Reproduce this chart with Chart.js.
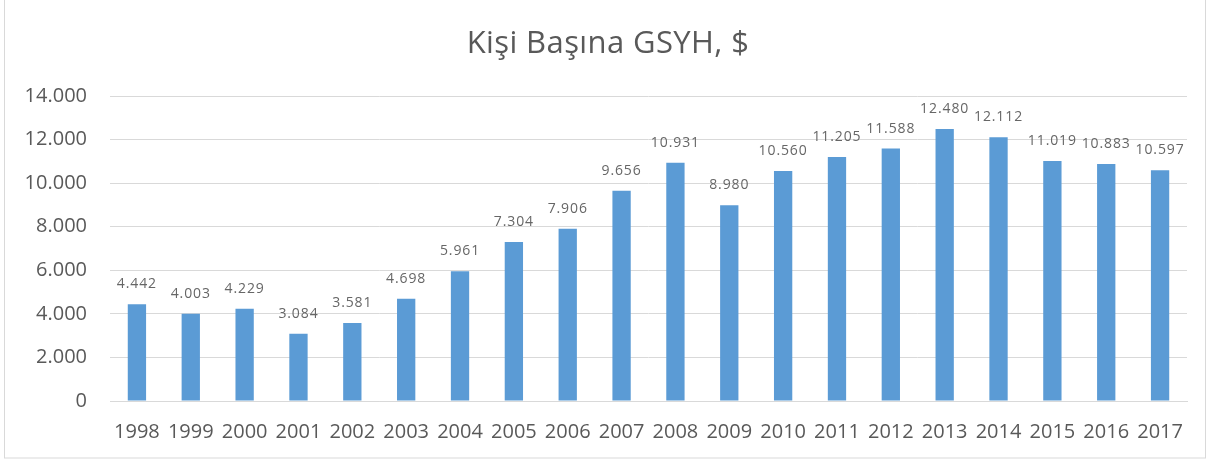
<!DOCTYPE html>
<html>
<head>
<meta charset="utf-8">
<script src="https://cdn.jsdelivr.net/npm/chart.js@4/dist/chart.umd.min.js"></script>
<style>
html,body{margin:0;padding:0;background:#fff;}
#wrap{position:relative;width:1214px;height:463px;}
canvas{display:block;}
</style>
</head>
<body>
<div id="wrap"><canvas id="c" width="1214" height="463"></canvas></div>
<script>
const categories = ['1998','1999','2000','2001','2002','2003','2004','2005','2006','2007','2008','2009','2010','2011','2012','2013','2014','2015','2016','2017'];
const gdpPerCapita = [4442, 4003, 4229, 3084, 3581, 4698, 5961, 7304, 7906, 9656, 10931, 8980, 10560, 11205, 11588, 12480, 12112, 11019, 10883, 10597];
const titleText = 'Kişi Başına GSYH, $';
const yMin = 0, yMax = 14000, yStep = 2000;

function fmt(v){ return String(v).replace(/\B(?=(\d{3})+(?!\d))/g, '.'); }

const FONT = "'Open Sans', sans-serif";
const TXT = '#595959';

const decor = {
  id: 'decor',
  afterDraw(chart){
    const ctx = chart.ctx;
    ctx.save();
    // border
    ctx.strokeStyle = '#d9d9d9';
    ctx.lineWidth = 1;
    ctx.strokeRect(4.5, -1, 1201, 459);
    // title
    ctx.fillStyle = TXT;
    ctx.font = "31px " + FONT;
    try { ctx.letterSpacing = '0.4px'; } catch(e){}
    ctx.textAlign = 'center';
    ctx.textBaseline = 'middle';
    ctx.fillText(titleText, 608, 44);
    // data labels
    ctx.font = "14px " + FONT;
    try { ctx.letterSpacing = '0.9px'; } catch(e){}
    ctx.fillStyle = '#666666';
    ctx.textBaseline = 'middle';
    const meta = chart.getDatasetMeta(0);
    meta.data.forEach((bar, i) => {
      ctx.fillText(fmt(chart.data.datasets[0].data[i]), bar.x, bar.y - 20);
    });
    ctx.restore();
  }
};

new Chart(document.getElementById('c'), {
  type: 'bar',
  data: {
    labels: categories,
    datasets: [{
      data: gdpPerCapita,
      backgroundColor: '#5B9BD5',
      borderWidth: 0,
      barPercentage: 0.34,
      categoryPercentage: 1.0
    }]
  },
  options: {
    responsive: false,
    animation: false,
    devicePixelRatio: 1,
    layout: { padding: { top: 96, right: 27, bottom: 0, left: 0 } },
    plugins: { legend: { display: false }, title: { display: false }, tooltip: { enabled: false } },
    scales: {
      x: {
        grid: { display: false, drawTicks: false },
        border: { display: true, color: '#d9d9d9', width: 1 },
        ticks: { color: TXT, font: { family: FONT, size: 20 }, padding: 19, autoSkip: false, maxRotation: 0, minRotation: 0 },
        afterFit(s){ s.height = 62; }
      },
      y: {
        min: yMin, max: yMax,
        grid: { color: '#d9d9d9', drawTicks: false },
        border: { display: false },
        ticks: { stepSize: yStep, color: TXT, font: { family: FONT, size: 20 }, padding: 23, callback: v => fmt(v) },
        afterFit(s){ s.width = 110; }
      }
    }
  },
  plugins: [decor]
});
</script>
</body>
</html>
